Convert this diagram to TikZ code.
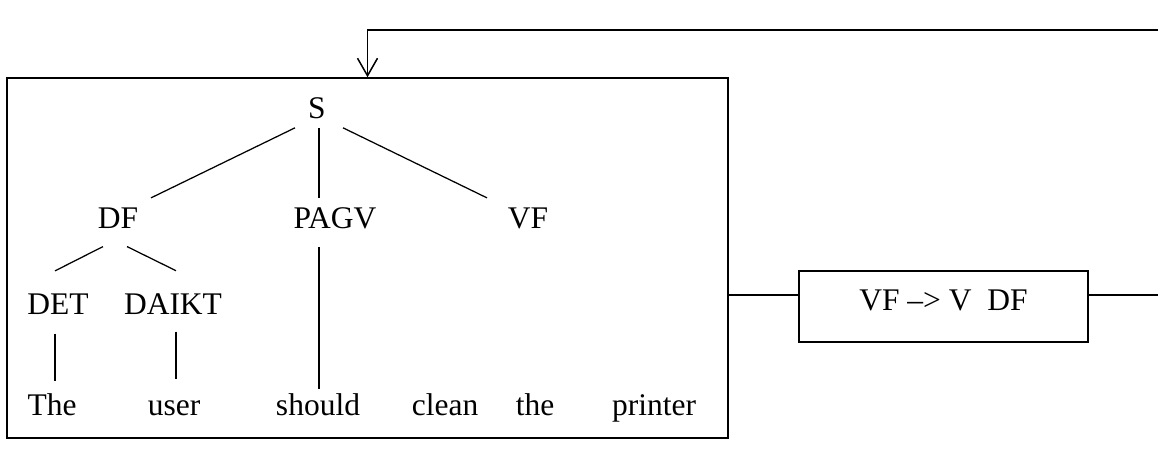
\documentclass[tikz,border=0pt]{standalone}
\usepackage{fontspec}
\setmainfont{Liberation Serif}
\usetikzlibrary{arrows.meta}

\begin{document}
\begin{tikzpicture}[
    x=0.4pt, y=-0.4pt,
    font=\fontsize{12.6}{15}\selectfont,
    frame/.style={rectangle, draw, line width=0.6pt},
    cat/.style={inner sep=0pt, anchor=base},
    branch/.style={line width=0.5pt},
    wire/.style={line width=0.6pt},
    feedback/.style={line width=0.6pt, -{Straight Barb[length=7pt, width=8pt]}}
]
\useasboundingbox (0,0) rectangle (1158,461);

\node[frame, minimum width=288.4pt, minimum height=144pt] (tree) at (367.5,258) {};
\node[frame, minimum width=115.6pt, minimum height=28.4pt, text depth=4.8pt] (rule) at (943.5,306.5) {VF –> V\ \ DF};

% categories
\node[cat] (s) at (317,118) {S};
\node[cat] (df) at (118,228) {DF};
\node[cat] (pagv) at (335,228) {PAGV};
\node[cat] (vf) at (528,228) {VF};
\node[cat] (det) at (58,314) {DET};
\node[cat] (daikt) at (173,314) {DAIKT};

% words
\node[cat] (the) at (52,415) {The};
\node[cat] (user) at (174,415) {user};
\node[cat] (should) at (318,415) {should};
\node[cat] (clean) at (445,415) {clean};
\node[cat] (the2) at (535,415) {the};
\node[cat] (printer) at (654,415) {printer};

\draw[branch] ([shift={(-22,9)}]s.south) -- ([shift={(33,-9)}]df.north);
\draw[branch] ([shift={(2,9)}]s.south) -- ([shift={(-16,-9)}]pagv.north);
\draw[branch] ([shift={(26,9)}]s.south) -- ([shift={(-41,-9)}]vf.north);
\draw[branch] ([shift={(-15,18)}]df.south) -- ([shift={(-3,-22)}]det.north);
\draw[branch] ([shift={(9,18)}]df.south) -- ([shift={(3,-22)}]daikt.north);
\draw[branch] ([shift={(-3,19)}]det.south) -- ([shift={(3,-11.6)}]the.north);
\draw[branch] ([shift={(3,17)}]daikt.south) -- ([shift={(2,-20.5)}]user.north);
\draw[branch] ([shift={(-16,18)}]pagv.south) -- ([shift={(1,-4)}]should.north);

\coordinate (joint) at (760,295);
\coordinate (out) at (1158,295);
\coordinate (back) at (1158,30);

\draw[wire] (tree.east |- joint) -- (rule.west |- joint);
\draw[wire] (rule.east |- joint) -- (out);
\draw[feedback] (back) -| (tree.north);

\end{tikzpicture}
\end{document}
